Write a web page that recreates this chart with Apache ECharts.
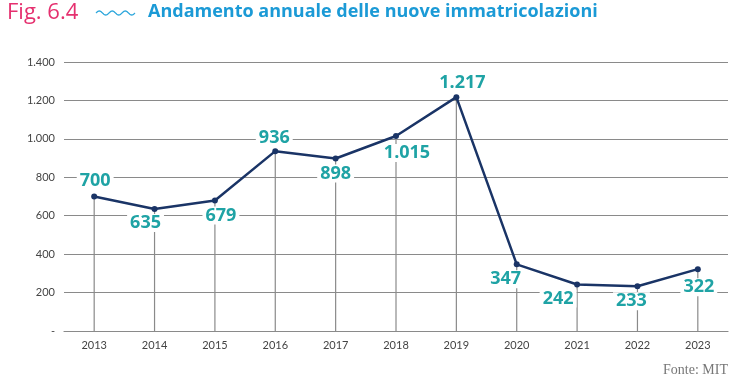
<!DOCTYPE html>
<html><head><meta charset="utf-8">
<script src="https://cdn.jsdelivr.net/npm/echarts@6/dist/echarts.min.js"></script>
<style>html,body{margin:0;padding:0;background:#fff}#c{width:756px;height:383px}</style>
</head><body><div id="c"></div>
<script>
const years = ['2013','2014','2015','2016','2017','2018','2019','2020','2021','2022','2023'];
const registrations = [700, 635, 679, 936, 898, 1015, 1217, 347, 242, 233, 322];
const labelOffsets = [[1,-16],[-9,14],[6,15],[-1,-13],[0,15],[11,17],[6,-14],[-11,15],[-19,14],[-6,15],[1,18]];
const yTicks = {min:0, max:1400, interval:200};

function fmt(v){ if(v===0) return '-'; return String(v).replace(/\B(?=(\d{3})+(?!\d))/g,'.'); }

// decorative wave in title
const wavePts = [];
for(let i=0;i<=60;i++){ const t=i/60; wavePts.push([96+t*39, 13-2*Math.sin(t*Math.PI*6)]); }

const chart = echarts.init(document.getElementById('c'), null, {renderer:'canvas'});
chart.setOption({
  animation:false,
  backgroundColor:'#fff',
  graphic:[
    {type:'text', left:7, top:2, style:{text:'Fig. 6.4', fill:'#e5306f', font:'normal 22px "Open Sans"'}},
    {type:'polyline', shape:{points:wavePts, smooth:0}, style:{stroke:'#2ea7dc', lineWidth:1.3, fill:null}},
    {type:'text', left:148, top:3, style:{text:'Andamento annuale delle nuove immatricolazioni', fill:'#1b9ad6', font:'bold 18px "Open Sans"'}},
    {type:'text', right:28, top:363, style:{text:'Fonte: MIT', fill:'#777', font:'14px "Liberation Serif"'}}
  ],
  grid:{left:64, right:28, top:62, bottom:52},
  xAxis:{
    type:'category', data:years, boundaryGap:true,
    axisLine:{show:true, lineStyle:{color:'#8a8a8a', width:1.2}},
    axisTick:{show:false},
    axisLabel:{color:'#444', fontSize:11, fontFamily:'Lato', margin:9}
  },
  yAxis:{
    type:'value', min:yTicks.min, max:yTicks.max, interval:yTicks.interval,
    axisLine:{show:false}, axisTick:{show:false},
    splitLine:{lineStyle:{color:'#8a8a8a', width:1.2}},
    axisLabel:{color:'#444', fontSize:11, fontFamily:'Lato', margin:9, formatter:fmt}
  },
  series:[
    {type:'bar', data:registrations, barWidth:1.2, itemStyle:{color:'#8a8a8a'}, z:1, silent:true},
    {type:'line', data:registrations.map((v,i)=>({value:v, label:{offset:labelOffsets[i]}})),
     z:3, symbol:'circle', symbolSize:6,
     lineStyle:{color:'#1a3466', width:2.5},
     itemStyle:{color:'#1a3466'},
     label:{show:true, position:'inside', formatter:p=>fmt(p.value),
       color:'#1fa3a5', fontSize:18, fontWeight:'bold', fontFamily:'Open Sans',
       backgroundColor:'#fff', padding:[0,3]}
    }
  ]
});
</script></body></html>
